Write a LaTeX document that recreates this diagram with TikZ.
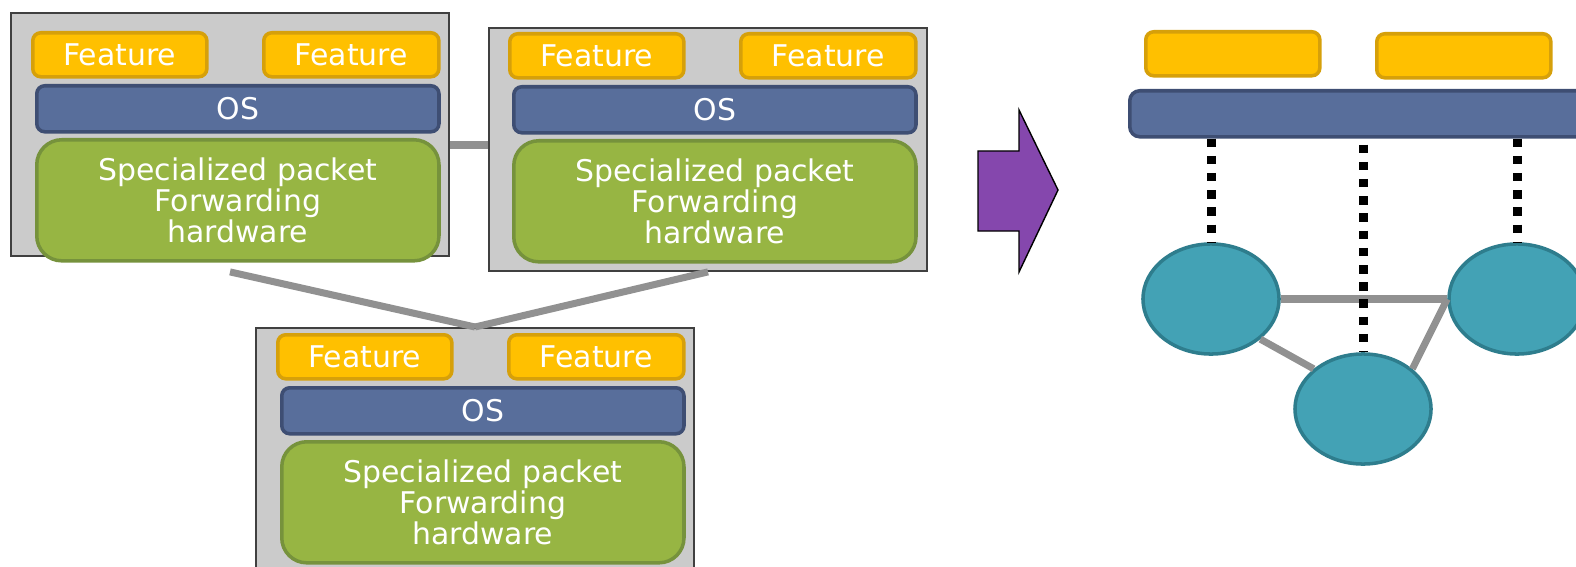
\documentclass[tikz,border=0pt]{standalone}
\usepackage{fontspec}
\setmainfont{DejaVu Sans}
\usepackage{xcolor}
\usepackage{tikz}
\usetikzlibrary{shapes.geometric,calc}

\definecolor{chassisgray}{RGB}{203,203,203}
\definecolor{featfill}{RGB}{255,192,0}
\definecolor{featline}{RGB}{214,160,10}
\definecolor{osfill}{RGB}{88,110,155}
\definecolor{osline}{RGB}{62,78,115}
\definecolor{hwfill}{RGB}{151,181,67}
\definecolor{hwline}{RGB}{118,146,60}
\definecolor{ctrlfill}{RGB}{67,162,181}
\definecolor{ctrlline}{RGB}{46,125,141}
\definecolor{linkgray}{RGB}{145,145,145}
\definecolor{arrowpurple}{RGB}{133,71,173}

\tikzset{
	txt/.style={text=white, font=\fontsize{8.5}{8.8}\selectfont},
	chassis/.style={draw=black!75, line width=0.5pt, fill=chassisgray, anchor=north west,
		minimum width=4.38cm, minimum height=2.43cm, inner sep=0pt},
	feat/.style={txt, draw=featline, line width=1pt, fill=featfill, rounded corners=0.08cm,
		anchor=north west, minimum width=1.74cm, minimum height=0.44cm, inner sep=0pt},
	osbar/.style={txt, draw=osline, line width=1pt, fill=osfill, rounded corners=0.08cm,
		anchor=north west, minimum width=4.02cm, minimum height=0.46cm, inner sep=0pt},
	fwd/.style={txt, draw=hwline, line width=1pt, fill=hwfill, rounded corners=0.25cm,
		anchor=north west, minimum width=4.02cm, minimum height=1.21cm, inner sep=0pt, align=center},
	ctrl/.style={ellipse, draw=ctrlline, line width=1pt, fill=ctrlfill,
		minimum width=1.36cm, minimum height=1.10cm, inner sep=0pt},
	link/.style={draw=linkgray, line width=0.07cm},
	tap/.style={draw=black, line width=0.09cm, dash pattern=on 0.085cm off 0.087cm},
}

\begin{document}
\begin{tikzpicture}[x=0.01cm, y=-0.01cm]
		\clip (0,0) rectangle (1576,567);

		% classic switches
		\foreach \n/\fx/\fy/\cx/\cy in {1/10/12/31/31, 2/488/27/508/32, 3/255/327/276/333} {
			\node[chassis] (s\n) at (\fx,\fy) {};
			\node[feat] (s\n-fa) at (\cx,\cy) {Feature};
			\node[feat, minimum width=1.75cm] (s\n-fb) at (\cx+231,\cy) {Feature};
			\node[osbar] (s\n-os) at (\cx+4,\cy+53) {OS};
			\node[fwd] (s\n-hw) at (\cx+4,\cy+107) {Specialized packet\\Forwarding\\hardware};
		}
		\coordinate (s1-foot) at ([yshift=-0.15cm]s1.south);
		\draw[link] (s1.east |- 0,145) -- (s2.west |- 0,145);
		\draw[link] (s1-foot) -- (s3.north);
		\draw[link] (s2.south) -- (s3.north);

		\filldraw[fill=arrowpurple, draw=black, line width=0.4pt]
			(978,151) -- (1019,151) -- (1019,110) -- (1058,190)
			-- (1019,272) -- (1019,231) -- (978,231) -- cycle;

		% controller view
		\node[feat] (cf1) at (1144,30) {};
		\node[feat] (cf2) at (1375,32) {};
		\node[osbar, rounded corners=0.1cm, minimum width=4.7cm] (nos) at (1128,89) {};
		\node[ctrl] (c1) at (1211,299) {};
		\node[ctrl] (c2) at (1517,299) {};
		\node[ctrl] (c3) at (1363,409) {};
		\draw[link] (c1.east) -- (c2.west);
		\draw[link] (c1.south east) -- (c3.north west);
		\draw[link] (c2.west) -- (c3.north east);
		\draw[tap] (nos.south -| c1.north) -- (c1.north);
		\draw[tap] ($(nos.south -| c3.north)+(0,6)$) -- (c3.north);
		\draw[tap] (nos.south -| c2.north) -- (c2.north);
	\end{tikzpicture}
\end{document}
